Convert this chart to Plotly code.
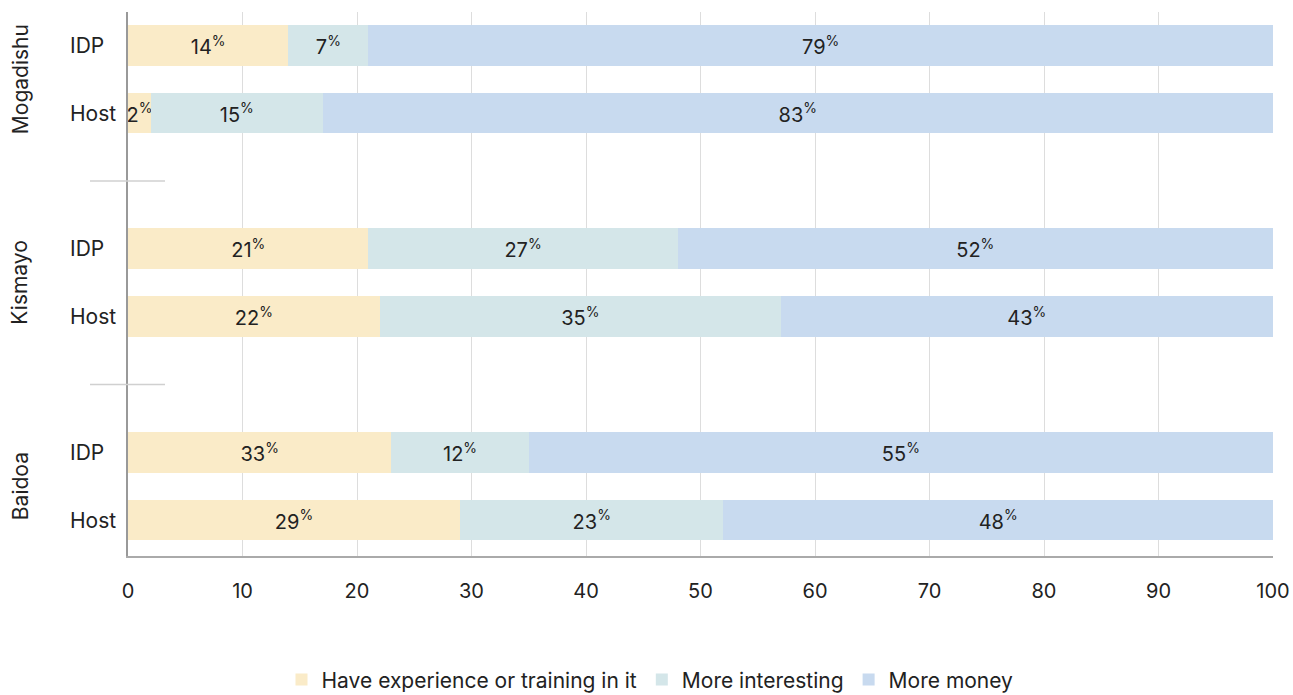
import plotly.graph_objects as go

cities = ["Mogadishu", "Kismayo", "Baidoa"]
groups = ["IDP", "Host"]
row_pos = [0, 1, 3, 4, 6, 7]
row_labels = ["IDP", "Host", "IDP", "Host", "IDP", "Host"]

series_names = ["Have experience or training in it", "More interesting", "More money"]
experience = [14, 2, 21, 22, 23, 29]
interesting = [7, 15, 27, 35, 12, 23]
money = [79, 83, 52, 43, 65, 48]
experience_lbl = [14, 2, 21, 22, 33, 29]
interesting_lbl = [7, 15, 27, 35, 12, 23]
money_lbl = [79, 83, 52, 43, 55, 48]
colors = ["#FAEBC8", "#D4E6E9", "#C8DAEF"]

x_ticks = [0, 10, 20, 30, 40, 50, 60, 70, 80, 90, 100]

FONT = "Inter"
fig = go.Figure()
for name, vals, lbls, col in zip(series_names, [experience, interesting, money],
                                  [experience_lbl, interesting_lbl, money_lbl], colors):
    fig.add_trace(go.Bar(
        y=row_pos, x=vals, name=name, orientation="h",
        marker=dict(color=col, line=dict(width=0)),
        width=0.6,
        text=[f"{v}<sup>%</sup>" for v in lbls],
        textposition="inside", insidetextanchor="middle",
        textfont=dict(family=FONT, size=20, color="#222"),
        constraintext="none",
        cliponaxis=False,
    ))

PL, PR = 128, 1273
W = PR - PL
def px(xp):
    return (xp - PL) / W

annotations = []
for yv, lab in zip(row_pos, row_labels):
    annotations.append(dict(x=px(68), xref="paper", y=yv, yref="y", text=lab,
                            showarrow=False, xanchor="left", yanchor="middle",
                            font=dict(family=FONT, size=21, color="#222")))
for i, c in enumerate(cities):
    annotations.append(dict(x=px(20), xref="paper", y=i * 3 + 0.5, yref="y", text=c,
                            showarrow=False, textangle=-90, xanchor="center", yanchor="middle",
                            font=dict(family=FONT, size=21, color="#222")))

shapes = []
for yv in [2, 5]:
    shapes.append(dict(type="line", xref="paper", yref="y", x0=px(90), x1=px(165),
                       y0=yv, y1=yv, line=dict(color="#d0d0d0", width=1.5)))

fig.update_layout(
    barmode="stack",
    width=1293, height=695,
    margin=dict(l=PL, r=1293 - PR, t=12, b=139, autoexpand=False),
    plot_bgcolor="white", paper_bgcolor="white",
    font=dict(family=FONT, size=20, color="#222"),
    xaxis=dict(range=[0, 100], tickvals=x_ticks, showgrid=True, gridcolor="#dddddd",
               gridwidth=1.2, zeroline=False, showline=True, linecolor="#aaaaaa", linewidth=2,
               ticks="", ticklabelstandoff=16, tickfont=dict(family=FONT, size=20, color="#222")),
    yaxis=dict(range=[7.53, -0.49], showticklabels=False, showgrid=False, zeroline=False,
               showline=True, linecolor="#999999", linewidth=1.5, ticks=""),
    legend=dict(orientation="h", x=px(650), xanchor="center", yref="paper", y=-0.19,
                yanchor="top", font=dict(family=FONT, size=21, color="#222"),
                traceorder="normal", itemwidth=30, itemsizing="constant"),
    annotations=annotations,
    shapes=shapes,
    uniformtext=dict(mode=False),
)

fig.write_html("out.html", config={"displayModeBar": False},
               post_script="document.body.style.margin='0';document.body.style.overflow='hidden';")
